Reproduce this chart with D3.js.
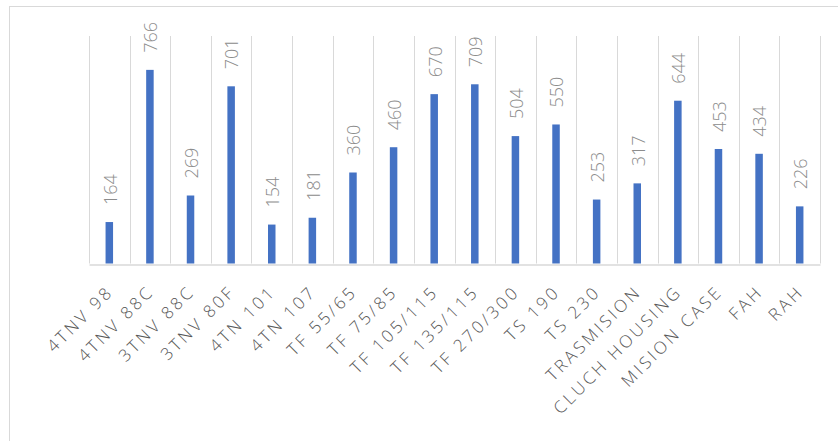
<!DOCTYPE html>
<html>
<head>
<meta charset="utf-8">
<script src="https://cdn.jsdelivr.net/npm/d3@7"></script>
<style>
  body { margin: 0; background: #fff; }
  svg { display: block; }
</style>
</head>
<body>
<div id="chart"></div>
<script>
// categories and counts
var categories = ['4TNV 98', '4TNV 88C', '3TNV 88C', '3TNV 80F', '4TN 101', '4TN 107',
  'TF 55/65', 'TF 75/85', 'TF 105/115', 'TF 135/115', 'TF 270/300', 'TS 190', 'TS 230',
  'TRASMISION', 'CLUCH HOUSING', 'MISION CASE', 'FAH', 'RAH'];
var values = [164, 766, 269, 701, 154, 181, 360, 460, 670, 709, 504, 550, 253, 317, 644, 453, 434, 226];

var width = 838, height = 441;

var margin = { top: 36, right: 18, bottom: 178, left: 89 };

var svg = d3.select('#chart')
  .append('svg')
  .attr('width', width)
  .attr('height', height);

// chart area border
svg.append('rect')
  .attr('x', 9.5)
  .attr('y', 6.5)
  .attr('width', 900)
  .attr('height', 500)
  .attr('fill', 'none')
  .attr('stroke', '#d9d9d9');

var g = svg.append('g')
  .attr('transform', 'translate(' + margin.left + ',' + margin.top + ')');

var h = height - margin.top - margin.bottom;

var xScale = d3.scaleBand()
  .domain(categories)
  .range([0, 731]);

var yScale = d3.scaleLinear()
  .domain([0, 900])
  .range([h + 0.5, 0]);

// vertical gridlines on category boundaries
var bounds = categories.map(function(d) { return xScale(d); }).concat([xScale.range()[1]]);
g.selectAll('.grid')
  .data(bounds)
  .enter()
  .append('line')
  .attr('class', 'grid')
  .attr('x1', function(d) { return Math.round(d) + 0.5; })
  .attr('x2', function(d) { return Math.round(d) + 0.5; })
  .attr('y1', 0)
  .attr('y2', yScale(0))
  .attr('stroke', '#d9d9d9');

// x axis
var xAxis = g.append('g')
  .attr('transform', 'translate(0,' + (Math.round(yScale(0)) + 0.5) + ')')
  .call(d3.axisBottom(xScale).tickSize(0).tickPadding(0));

xAxis.select('.domain')
  .attr('stroke', '#d9d9d9')
  .attr('stroke-width', 1.5);

xAxis.selectAll('text')
  .attr('transform', 'translate(1,24) rotate(-45)')
  .attr('text-anchor', 'end')
  .attr('dy', '0.35em')
  .attr('y', 0)
  .attr('fill', '#595959')
  .style('font-family', '"Open Sans", sans-serif')
  .style('font-size', '17px')
  .style('font-weight', 300)
  .style('letter-spacing', '3px');

var barWidth = 7.5;

g.selectAll('.bar')
  .data(values)
  .enter()
  .append('rect')
  .attr('class', 'bar')
  .attr('fill', '#4472c4')
  .attr('x', function(d, i) { return xScale(categories[i]) + xScale.bandwidth() / 2 - barWidth / 2; })
  .attr('width', barWidth)
  .attr('y', function(d) { return yScale(d); })
  .attr('height', function(d) { return yScale(0) - yScale(d); });

// value labels, rotated
g.selectAll('.label')
  .data(values)
  .enter()
  .append('text')
  .attr('class', 'label')
  .attr('transform', function(d, i) {
    var cx = xScale(categories[i]) + xScale.bandwidth() / 2 + 1;
    return 'translate(' + cx + ',' + (yScale(d) - 17) + ') rotate(-90)';
  })
  .attr('text-anchor', 'start')
  .attr('dy', '0.35em')
  .attr('fill', '#8c8c8c')
  .style('font-family', '"Open Sans", sans-serif')
  .style('font-size', '18px')
  .style('font-weight', 300)
  .text(function(d) { return d; });
</script>
</body>
</html>
